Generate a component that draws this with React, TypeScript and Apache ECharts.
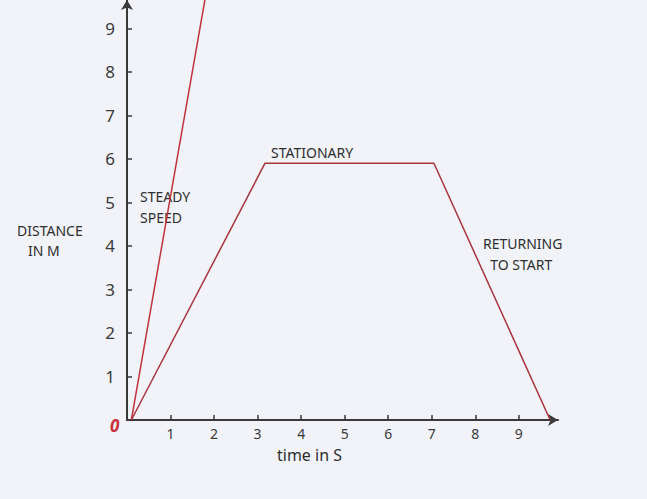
import React, { useEffect, useRef } from "react";
import * as echarts from "echarts";

const xTicks = [1, 2, 3, 4, 5, 6, 7, 8, 9];
const yTicks = [1, 2, 3, 4, 5, 6, 7, 8, 9];
const steadySpeed: [number, number][] = [[0.1, 0], [1.85, 10]];
const journey: [number, number][] = [[0.1, 0], [3.17, 5.9], [7.05, 5.9], [9.72, 0]];
const notes = [
  { text: "STEADY\nSPEED", x: 140, y: 186 },
  { text: "STATIONARY", x: 271, y: 142 },
  { text: "RETURNING\n  TO START", x: 483, y: 233 },
];

export default function App() {
  const ref = useRef<HTMLDivElement>(null);
  useEffect(() => {
    if (!ref.current) return;
    const chart = echarts.init(ref.current, undefined, { renderer: "svg" });
    const font = "'Noto Sans', sans-serif";
    chart.setOption({
      animation: false,
      backgroundColor: "#f1f3f9",
      grid: { left: 127, right: 89, top: 0, bottom: 79 },
      xAxis: {
        type: "value",
        min: 0,
        max: 9.9,
        axisLine: { show: true, lineStyle: { color: "#3a3a3a", width: 2 }, symbol: ["none", "arrow"], symbolSize: [9, 10] },
        axisTick: { show: true, inside: true, length: 5, customValues: xTicks, lineStyle: { color: "#3a3a3a", width: 1.5 } },
        axisLabel: { customValues: xTicks, margin: 6, color: "#3a3a3a", fontSize: 14, fontFamily: font },
        splitLine: { show: false },
      },
      yAxis: {
        type: "value",
        min: 0,
        max: 9.65,
        axisLine: { show: true, lineStyle: { color: "#3a3a3a", width: 2 }, symbol: ["none", "arrow"], symbolSize: [9, 10] },
        axisTick: { show: true, inside: true, length: 5, customValues: yTicks, lineStyle: { color: "#3a3a3a", width: 1.5 } },
        axisLabel: { customValues: yTicks, margin: 12, color: "#3a3a3a", fontSize: 17, fontFamily: font },
        splitLine: { show: false },
      },
      series: [
        {
          type: "line",
          data: steadySpeed,
          symbol: "none",
          clip: true,
          lineStyle: { color: "#c0343e", width: 1.5 },
        },
        {
          type: "line",
          data: journey,
          symbol: "none",
          clip: true,
          lineStyle: { color: "#a8343c", width: 1.5 },
        },
      ],
      graphic: [
        ...notes.map((n) => ({
          type: "text",
          left: n.x,
          top: n.y,
          style: { text: n.text, fill: "#2e2e2e", font: `14px ${font}`, lineHeight: 21 },
        })),
        {
          type: "text",
          left: 17,
          top: 220,
          style: { text: "DISTANCE\n   IN M", fill: "#2e2e2e", font: `14px ${font}`, lineHeight: 20 },
        },
        {
          type: "text",
          left: 277,
          top: 447,
          style: { text: "time in S", fill: "#2e2e2e", font: `16px ${font}` },
        },
        {
          type: "text",
          left: 110,
          top: 417,
          style: { text: "0", fill: "#c8323c", font: `italic bold 17px ${font}` },
        },
      ],
    });
    return () => chart.dispose();
  }, []);
  return <div ref={ref} style={{ position: "fixed", left: 0, top: 0, width: 647, height: 499 }} />;
}
